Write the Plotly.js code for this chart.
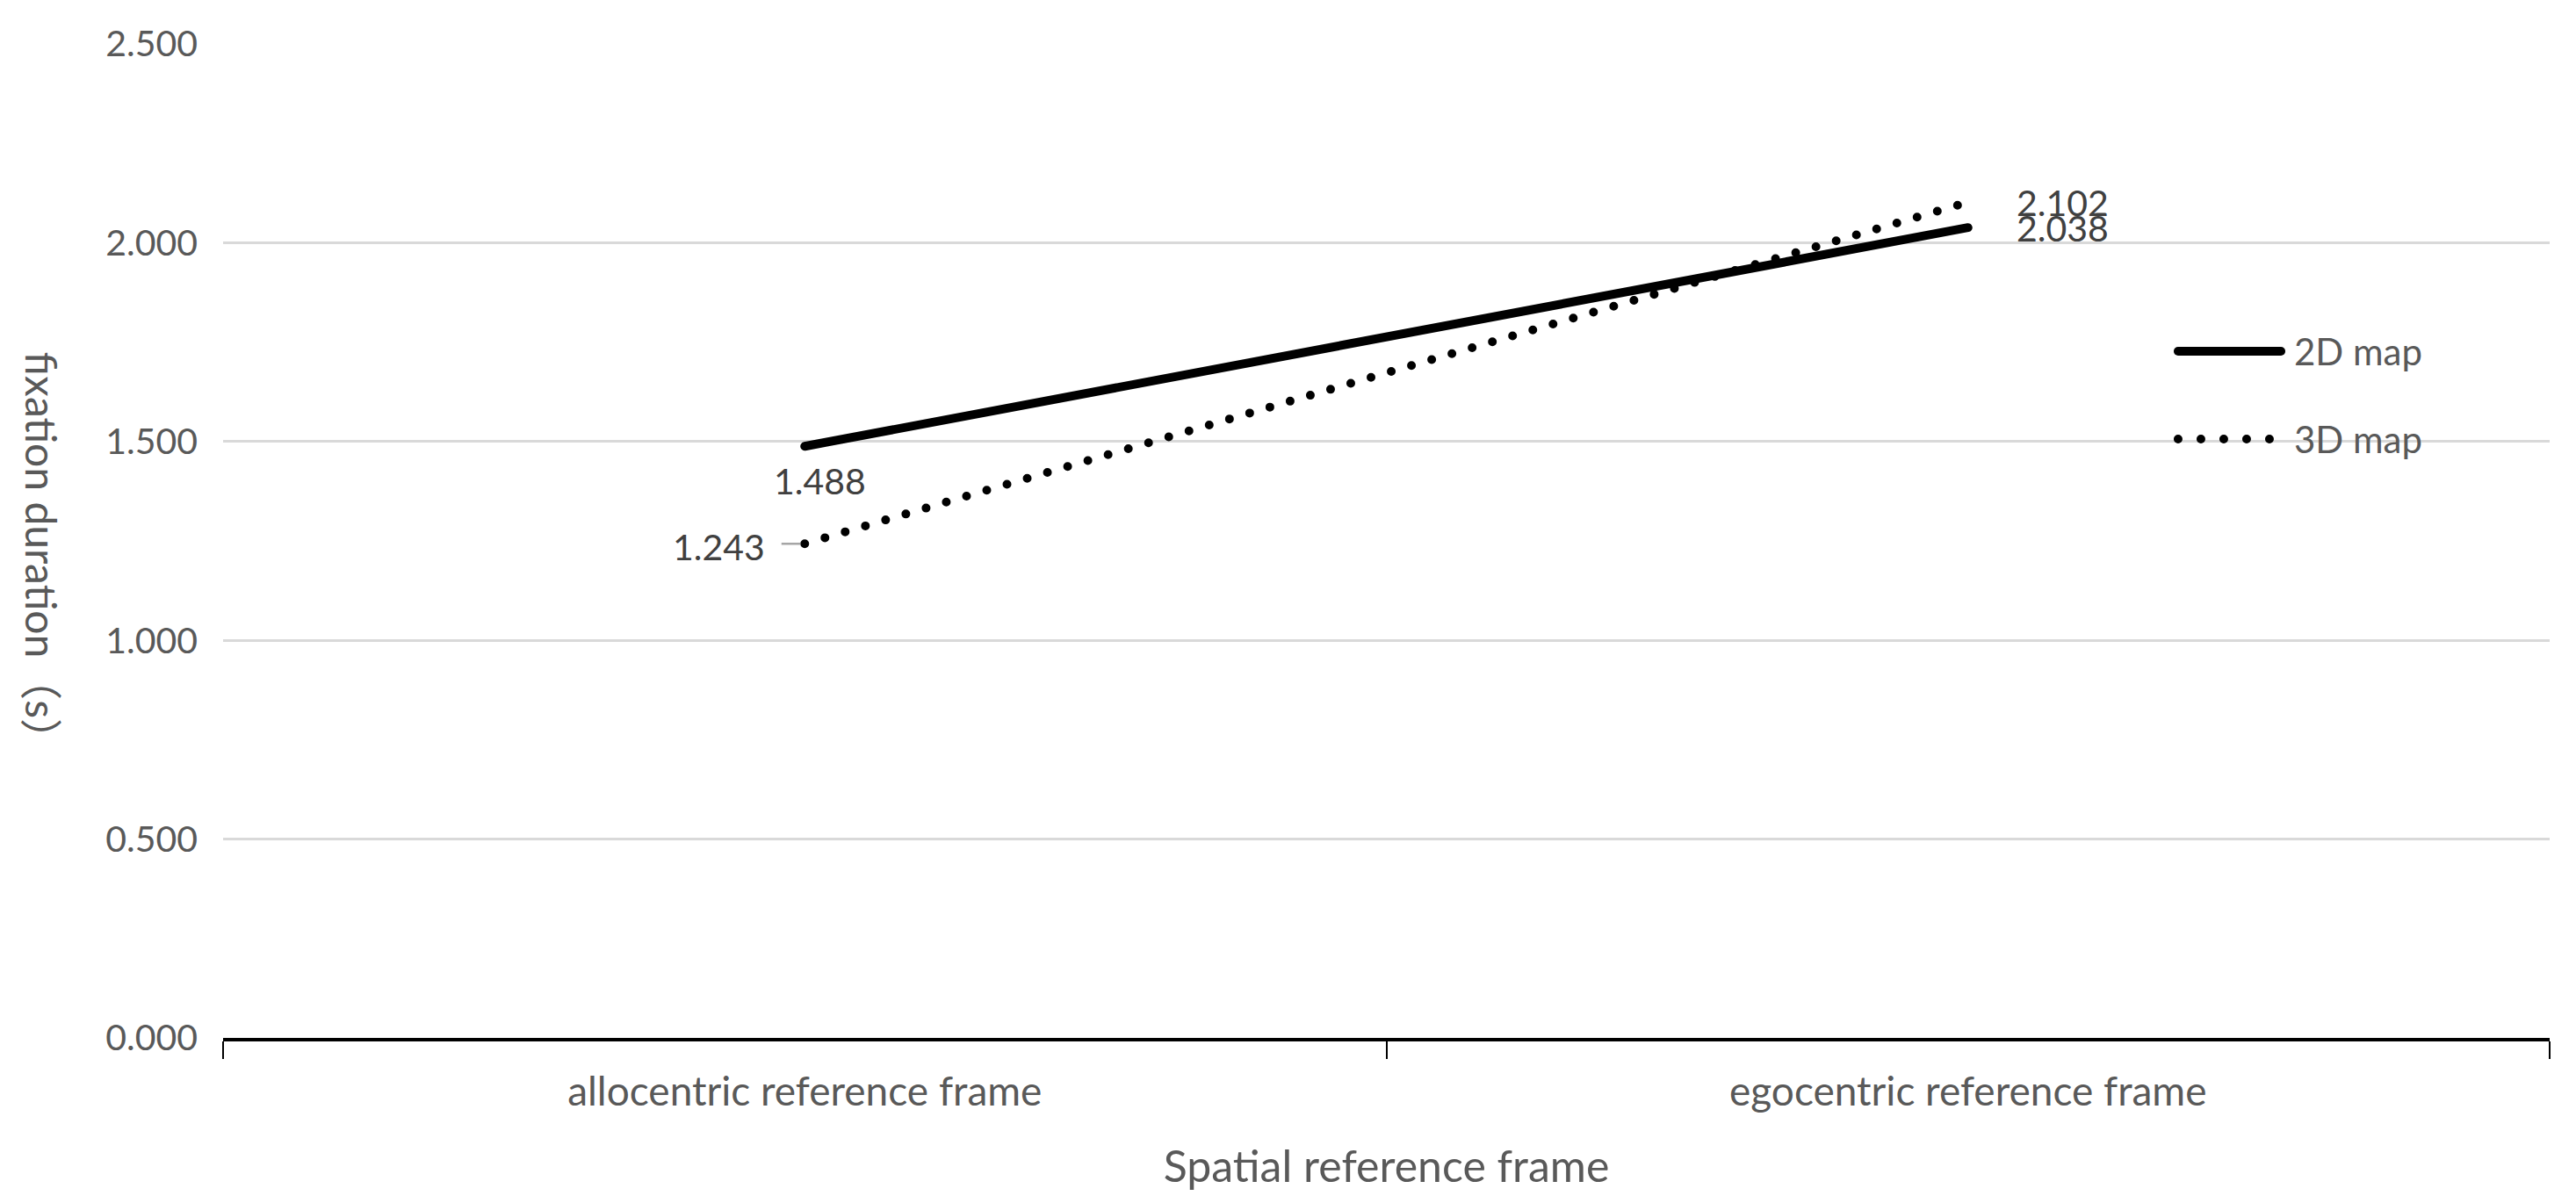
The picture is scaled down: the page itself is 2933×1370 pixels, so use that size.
<!DOCTYPE html>
<html>
<head>
<meta charset="utf-8">
<script src="https://cdn.plot.ly/plotly-3.0.1.min.js"></script>
<style>
  html, body { margin: 0; padding: 0; background: #fff; }
  #vis { width: 2933px; height: 1370px; }
  /* round ends on the series lines so the dotted one draws as round dots */
  .scatterlayer .js-line, .shapelayer path { stroke-linecap: round; }
</style>
</head>
<body>
<div id="vis"></div>
<script>
// data
const categories = ['allocentric reference frame', 'egocentric reference frame'];
const seriesNames = ['2D map', '3D map'];
const values2D = [1.488, 2.038];
const values3D = [1.243, 2.102];
const yTicks = [0, 0.5, 1, 1.5, 2, 2.5];

const labelFont = { family: 'Lato, "Noto Sans", sans-serif', size: 41, color: '#404040' };
const greyText = '#595959';

const traces = [
  {
    type: 'scatter', mode: 'lines', name: seriesNames[0],
    x: categories, y: values2D,
    line: { color: '#000000', width: 10 },
    showlegend: false, hoverinfo: 'skip'
  },
  {
    type: 'scatter', mode: 'lines', name: seriesNames[1],
    x: categories, y: values3D,
    line: { color: '#000000', width: 10, dash: '0px,24px' },
    showlegend: false, hoverinfo: 'skip'
  }
];

// data labels, placed next to their points
const annotations = [
  { x: categories[0], y: values2D[0], text: values2D[0].toFixed(3), showarrow: false, xshift: 17, yshift: -39, font: labelFont },
  { x: categories[1], y: values2D[1], text: values2D[1].toFixed(3), showarrow: false, xshift: 108, yshift: 0, font: labelFont },
  { x: categories[1], y: values3D[1], text: values3D[1].toFixed(3), showarrow: false, xshift: 108, yshift: 0, font: labelFont },
  { x: categories[0], y: values3D[0], text: values3D[0].toFixed(3), showarrow: false, xshift: -98, yshift: -3, font: labelFont },
  // leader line for the 1.243 label
  { x: categories[0], y: values3D[0], text: '', showarrow: true, arrowhead: 0, arrowwidth: 2.5,
    arrowcolor: '#a6a6a6', ax: -28, ay: 0, standoff: 5 },
  // y axis title, read top to bottom
  { xref: 'paper', yref: 'paper', x: -0.078, y: 0.485, text: 'fixation duration（s）', textangle: 90,
    showarrow: false, xanchor: 'center', yanchor: 'middle',
    font: { family: 'Lato, "Noto Sans CJK SC", sans-serif', size: 48, color: greyText } }
];

// legend drawn by hand so the keys are as long as in the original
const legendY = [0.6908, 0.6025];
const shapes = [
  { type: 'line', xref: 'paper', yref: 'paper', x0: 0.8403, x1: 0.8845, y0: legendY[0], y1: legendY[0],
    line: { color: '#000000', width: 10 } },
  { type: 'line', xref: 'paper', yref: 'paper', x0: 0.8403, x1: 0.8796, y0: legendY[1], y1: legendY[1],
    line: { color: '#000000', width: 10, dash: '0px,26px' } }
];
seriesNames.forEach((name, i) => {
  annotations.push({
    xref: 'paper', yref: 'paper', x: 0.8894, y: legendY[i], text: name, showarrow: false,
    xanchor: 'left', yanchor: 'middle',
    font: { family: 'Lato, sans-serif', size: 42, color: greyText }
  });
});

const layout = {
  width: 2933, height: 1370,
  margin: { l: 254, r: 30, t: 50, b: 188 },
  paper_bgcolor: '#ffffff', plot_bgcolor: '#ffffff',
  showlegend: false,
  xaxis: {
    type: 'category',
    range: [-0.5, 1.5],
    showgrid: false, zeroline: false,
    showline: true, linecolor: '#000000', linewidth: 4,
    ticks: 'outside', tickson: 'boundaries', ticklen: 20, tickwidth: 2, tickcolor: '#000000',
    ticklabelstandoff: 18,
    tickfont: { family: 'Lato, sans-serif', size: 46, color: greyText },
    title: { text: 'Spatial reference frame', standoff: 44,
      font: { family: 'Lato, sans-serif', size: 50, color: greyText } }
  },
  yaxis: {
    range: [0, 2.5],
    tickvals: yTicks, tickformat: '.3f',
    showgrid: true, gridcolor: '#d9d9d9', gridwidth: 3,
    zeroline: false, showline: false, ticks: '',
    ticklabelstandoff: 28,
    tickfont: { family: 'Lato, sans-serif', size: 41, color: greyText }
  },
  shapes: shapes,
  annotations: annotations
};

Plotly.newPlot('vis', traces, layout, { staticPlot: true });
</script>
</body>
</html>
